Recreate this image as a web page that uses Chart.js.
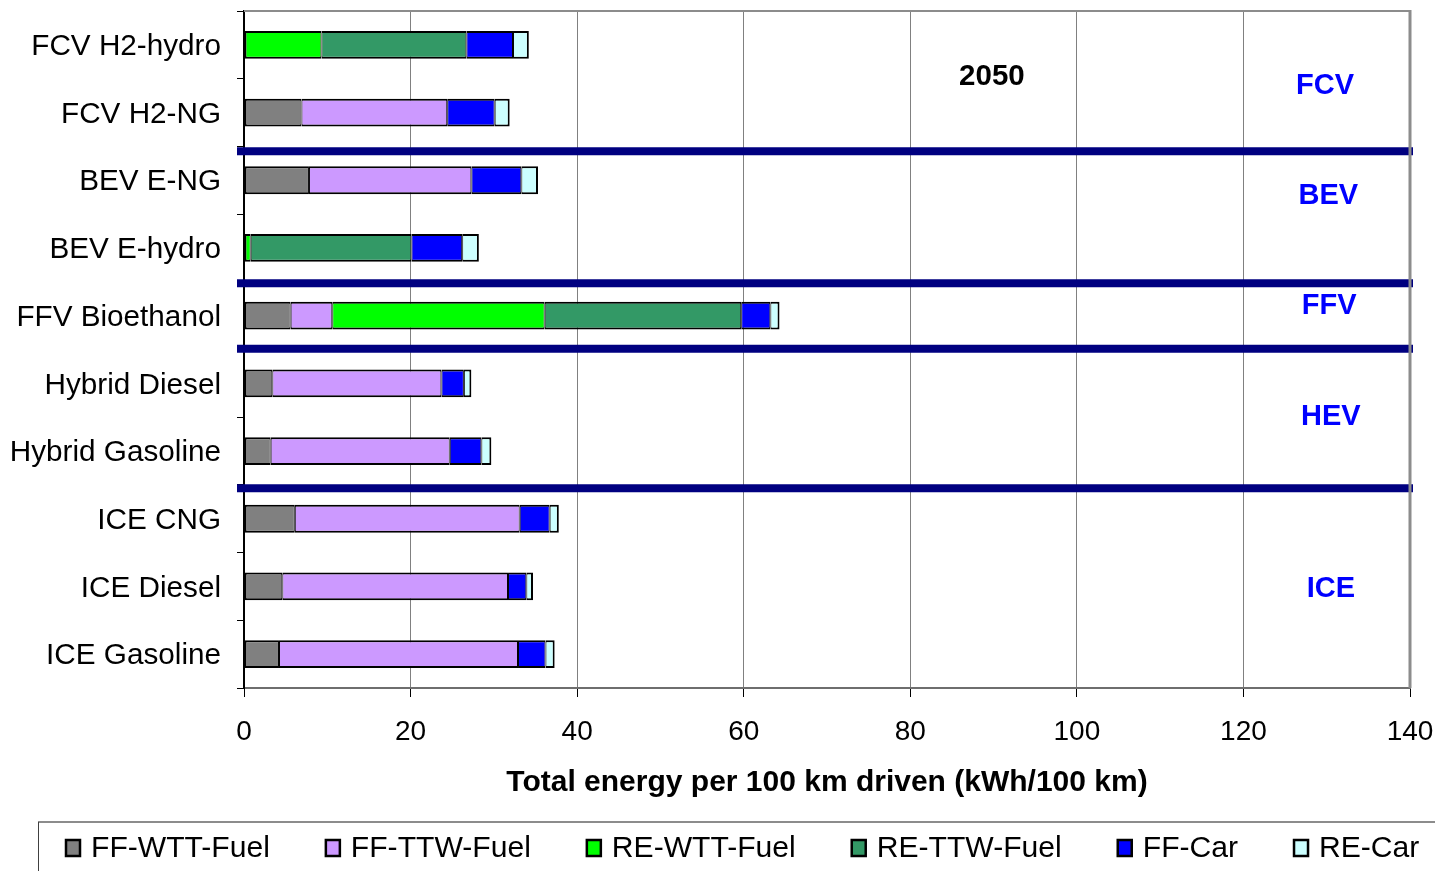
<!DOCTYPE html>
<html>
<head>
<meta charset="utf-8">
<script src="https://cdn.jsdelivr.net/npm/chart.js@4.4.1/dist/chart.umd.min.js"></script>
<style>
  html, body { margin: 0; padding: 0; background: #ffffff; overflow: hidden; }
  #wrap { position: relative; width: 1435px; height: 871px; }
</style>
</head>
<body>
<div id="wrap"><canvas id="chart" width="1435" height="871"></canvas></div>
<script>
// Vehicle / fuel pathways (top to bottom)
const vehicles = [
  'FCV H2-hydro', 'FCV H2-NG', 'BEV E-NG', 'BEV E-hydro', 'FFV Bioethanol',
  'Hybrid Diesel', 'Hybrid Gasoline', 'ICE CNG', 'ICE Diesel', 'ICE Gasoline'
];

// Energy components, kWh per 100 km
const ffWttFuel = [0.0, 6.9, 7.8, 0.0, 5.6, 3.4, 3.2, 6.1, 4.6, 4.2];
const ffTtwFuel = [0.0, 17.5, 19.5, 0.0, 5.0, 20.3, 21.5, 27.0, 27.1, 28.7];
const reWttFuel = [9.3, 0.0, 0.0, 0.8, 25.5, 0.0, 0.0, 0.0, 0.0, 0.0];
const reTtwFuel = [17.4, 0.0, 0.0, 19.3, 23.6, 0.0, 0.0, 0.0, 0.0, 0.0];
const ffCar     = [5.6, 5.7, 6.0, 6.1, 3.5, 2.7, 3.8, 3.6, 2.2, 3.3];
const reCar     = [1.9, 1.8, 2.0, 2.0, 1.1, 0.9, 1.2, 1.1, 0.8, 1.1];

const seriesNames = ['FF-WTT-Fuel', 'FF-TTW-Fuel', 'RE-WTT-Fuel', 'RE-TTW-Fuel', 'FF-Car', 'RE-Car'];
const seriesColors = ['#808080', '#CC99FF', '#00FF00', '#339966', '#0000FF', '#CCFFFF'];
const seriesValues = [ffWttFuel, ffTtwFuel, reWttFuel, reTtwFuel, ffCar, reCar];

// Axis ticks
const xTicks = [0, 20, 40, 60, 80, 100, 120, 140];
const xTitle = 'Total energy per 100 km driven (kWh/100 km)';

// Powertrain group captions (x in kWh/100 km, y in category index units)
const groupNames  = ['FCV', 'BEV', 'FFV', 'HEV', 'ICE'];
const groupLabelX = [129.8, 130.2, 130.3, 130.5, 130.5];
const groupLabelY = [0.61, 2.23, 3.86, 5.50, 8.04];
// Separator rules between powertrain groups (category index units)
const groupDividers = [1.57, 3.52, 4.49, 6.55];
// Scenario year caption
const yearLabel = '2050';
const yearLabelX = 89.8;
const yearLabelY = 0.475;

const FONT = '"Liberation Sans", Arial, Helvetica, sans-serif';

// Thicker outer edge on the first and last visible segment of each bar
function segmentBorder(ctx) {
  const i = ctx.dataIndex;
  const row = seriesValues.map(s => s[i]);
  let first = -1, last = -1;
  row.forEach((v, k) => { if (v > 0) { if (first < 0) first = k; last = k; } });
  const d = ctx.datasetIndex;
  return { top: 2, bottom: 2, left: d === first ? 2 : 1, right: d === last ? 2 : 1 };
}

const datasets = seriesNames.map((name, k) => ({
  label: name,
  data: seriesValues[k],
  backgroundColor: seriesColors[k],
  borderColor: '#000000',
  borderWidth: segmentBorder,
  borderSkipped: false,
  categoryPercentage: 1.0,
  barPercentage: 0.41
}));

const annotations = {
  id: 'annotations',
  afterDatasetsDraw(chart) {
    const { ctx, chartArea: a, scales: { x, y } } = chart;
    ctx.save();
    // group separators
    ctx.strokeStyle = '#000080';
    ctx.lineWidth = 8;
    groupDividers.forEach(v => {
      const py = y.getPixelForValue(v);
      ctx.beginPath();
      ctx.moveTo(a.left - 7, py);
      ctx.lineTo(a.right + 3, py);
      ctx.stroke();
    });
    // plot frame (top and right)
    ctx.strokeStyle = '#8c8c8c';
    ctx.lineWidth = 2;
    ctx.beginPath();
    ctx.moveTo(a.left, a.top);
    ctx.lineTo(a.right, a.top);
    ctx.stroke();
    ctx.lineWidth = 3;
    ctx.beginPath();
    ctx.moveTo(a.right, a.top - 1);
    ctx.lineTo(a.right, a.bottom);
    ctx.stroke();
    // group captions
    ctx.textAlign = 'center';
    ctx.textBaseline = 'middle';
    ctx.fillStyle = '#0000FF';
    ctx.font = 'bold 29px ' + FONT;
    groupNames.forEach((g, k) => {
      ctx.fillText(g, x.getPixelForValue(groupLabelX[k]), y.getPixelForValue(groupLabelY[k]));
    });
    // year caption
    ctx.fillStyle = '#000000';
    ctx.font = 'bold 29.5px ' + FONT;
    ctx.fillText(yearLabel, x.getPixelForValue(yearLabelX), y.getPixelForValue(yearLabelY));
    ctx.restore();
  },
  afterDraw(chart) {
    const { ctx } = chart;
    ctx.save();
    // legend frame
    ctx.strokeStyle = '#8c8c8c';
    ctx.lineWidth = 2;
    ctx.beginPath();
    ctx.moveTo(38, 822);
    ctx.lineTo(chart.width + 2, 822);
    ctx.stroke();
    ctx.strokeStyle = '#404040';
    ctx.lineWidth = 1;
    ctx.beginPath();
    ctx.moveTo(38.5, 822);
    ctx.lineTo(38.5, chart.height + 2);
    ctx.stroke();
    // legend entries
    ctx.font = '30.1px ' + FONT;
    ctx.textBaseline = 'middle';
    ctx.textAlign = 'left';
    let lx = 66;
    const ly = 848;
    chart.data.datasets.forEach(ds => {
      ctx.fillStyle = ds.backgroundColor;
      ctx.fillRect(lx, ly - 8, 14, 16);
      ctx.strokeStyle = '#000000';
      ctx.lineWidth = 2.5;
      ctx.strokeRect(lx, ly - 8, 14, 16);
      ctx.fillStyle = '#000000';
      ctx.fillText(ds.label, lx + 25, ly + 1);
      lx += 25 + ctx.measureText(ds.label).width + 56;
    });
    ctx.restore();
  }
};

new Chart(document.getElementById('chart'), {
  type: 'bar',
  data: { labels: vehicles, datasets },
  plugins: [annotations],
  options: {
    indexAxis: 'y',
    responsive: false,
    animation: false,
    devicePixelRatio: 1,
    layout: { padding: { top: 11, right: 25, bottom: 63, left: 0 } },
    plugins: { legend: { display: false }, tooltip: { enabled: false } },
    scales: {
      x: {
        stacked: true,
        min: 0,
        max: 140,
        afterBuildTicks: s => { s.ticks = xTicks.map(v => ({ value: v })); },
        afterFit: s => { s.height = 120; s.paddingLeft = 0; s.paddingRight = 0; },
        grid: { color: '#808080', lineWidth: 1, tickLength: 9, tickColor: '#000000', tickWidth: 1 },
        border: { color: '#6e6e6e', width: 2 },
        ticks: { color: '#000000', font: { family: FONT, size: 28 }, padding: 18, maxRotation: 0 },
        title: {
          display: true,
          text: xTitle,
          color: '#000000',
          font: { family: FONT, size: 30, weight: 'bold' },
          padding: { top: 0, bottom: 7 }
        }
      },
      y: {
        stacked: true,
        afterFit: s => { s.width = 244; s.paddingTop = 0; s.paddingBottom = 0; },
        grid: { drawOnChartArea: false, offset: true, tickLength: 7, tickColor: '#000000', tickWidth: 1 },
        border: { color: '#000000', width: 2 },
        ticks: { color: '#000000', font: { family: FONT, size: 29.7 }, padding: 16, labelOffset: 2 }
      }
    }
  }
});
</script>
</body>
</html>
